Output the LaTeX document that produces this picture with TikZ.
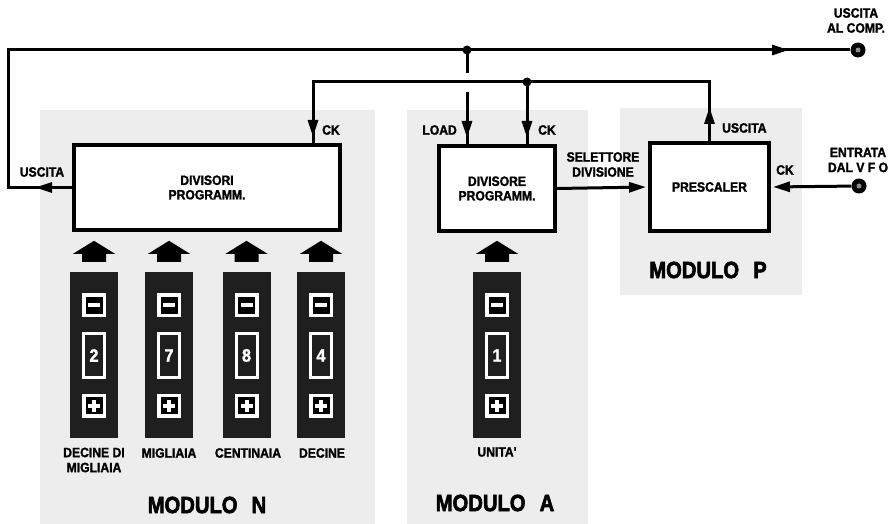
\documentclass[tikz,border=0pt]{standalone}
\usepackage{fontspec}
\setmainfont{Liberation Sans}
\newfontfamily\condfont{Liberation Sans}[FakeStretch=0.9, BoldFeatures={FakeBold=1.6}]
\newfontfamily\heavyfont{Liberation Sans}[FakeStretch=0.86, BoldFeatures={FakeBold=2.5}]
\usetikzlibrary{arrows.meta,calc}
\begin{document}
\begin{tikzpicture}[x=1pt,y=-1pt,
  wire/.style={line width=3pt},
  arr/.style={-{Triangle[length=17pt,width=10pt]}},
  box/.style={draw, line width=4pt, fill=white, inner sep=0pt, font=\condfont\fontsize{13.5}{14.5}\selectfont\bfseries, align=center},
  lab/.style={font=\condfont\fontsize{13.5}{15}\selectfont\bfseries, align=center, inner sep=0pt},
  modlab/.style={font=\heavyfont\fontsize{23.5}{26}\selectfont\bfseries, inner sep=0pt},
  zone/.style={fill=black!7},
  panel/.style={fill=black!88, minimum width=48pt, minimum height=166pt, inner sep=0pt},
  btn/.style={fill=black, draw=white, line width=3.5pt, minimum size=20.5pt, inner sep=0pt},
  win/.style={fill=black!88, draw=white, line width=3pt, minimum width=21pt, minimum height=44pt, inner sep=0pt, text=white, font=\condfont\fontsize{18}{18}\selectfont\bfseries},
  term/.style={circle, fill=black, minimum size=15pt, inner sep=0pt},
]
\useasboundingbox (0,0) rectangle (892,524);
\fill[white] (0,0) rectangle (892,524);
% module zones
\fill[zone] (40,110) rectangle (375,524);
\fill[zone] (407,110) rectangle (588,524);
\fill[zone] (620,108) rectangle (802,295);

% blocks
\node[box, minimum width=266pt, minimum height=85pt] (divN) at (207,187.5) {DIVISORI\\PROGRAMM.};
\node[box, minimum width=116pt, minimum height=85pt] (divA) at (497,188.5) {DIVISORE\\PROGRAMM.};
\node[box, minimum width=119pt, minimum height=88pt] (pres) at (709.5,187) {PRESCALER};

% terminals and junctions
\coordinate (TL) at (8,50);
\coordinate (J1) at (467,50);
\coordinate (J2) at (527,82);
\coordinate (Lt) at (313,82);
\coordinate (ldS) at (467,92);
\node[term] (outT) at (858,50) {};
\node[term] (inT) at (859,186) {};
\fill[black!45] (outT) circle (2.5);
\fill[black!45] (inT) circle (2.5);

% wires
\draw[wire] (divN.west) -| (TL) -- (outT);
\draw[wire,arr] (divN.west) -- (35,187.5);
\draw[wire,arr] (J1) -- (789,50);
\draw[wire] (J1) -- ++(0,23);
\draw[wire] (pres.north) |- (Lt) -- (Lt |- divN.north);
\draw[wire,arr] (Lt) -- (313,137);
\draw[wire] (J2) -- (J2 |- divA.north);
\draw[wire,arr] (J2) -- (527,138);
\draw[wire] (ldS) -- (ldS |- divA.north);
\draw[wire,arr] (ldS) -- (467,138);
\draw[wire,arr] (pres.north) -- (709.5,107);
\draw[wire,arr,shorten >=2pt] (divA.east) -- (pres.west);
\draw[wire,arr,shorten >=2pt] (inT) -- (pres.east);
\fill (J1) circle (4.5);
\fill (J2) circle (4.5);

% wire labels
\node[lab, anchor=center] (lUscN) at (42,172) {USCITA};
\node[lab, anchor=west] (lCkN) at (322,130) {CK};
\node[lab, anchor=east] (lLoad) at (457,130) {LOAD};
\node[lab, anchor=west] (lCkA) at (538,130) {CK};
\node[lab] (lSel) at (603,164.5) {SELETTORE\\DIVISIONE};
\node[lab, anchor=west] (lUscP) at (722,128) {USCITA};
\node[lab, anchor=west] (lCkP) at (776,170) {CK};
\node[lab] (lIn) at (858,160) {ENTRATA\\DAL V F O};
\node[lab] (lOut) at (856,20.5) {USCITA\\AL COMP.};

% digit panels
\foreach \nm/\cx/\dg in {N1/94/2, N2/169/7, N3/246.5/8, N4/321/4, A1/497/1} {
  \node[panel] (p\nm) at (\cx,355) {};
  \node[btn] (m\nm) at (\cx,305) {};
  \fill[white] (\cx-6,303) rectangle (\cx+6,307);
  \node[win] (w\nm) at (\cx,355.5) {\dg};
  \node[btn] (pl\nm) at (\cx,405.5) {};
  \fill[white] (\cx-6,403.5) rectangle (\cx+6,407.5);
  \fill[white] (\cx-2,399.5) rectangle (\cx+2,411.5);
  \fill ($(p\nm.north)+(0,-31)$) -- ++(21,13) -- ++(-9,0) -- ++(0,8) -- ++(-24,0) -- ++(0,-8) -- ++(-9,0) -- cycle;
}

% panel labels
\node[lab] (lDM) at (94,460) {DECINE DI\\MIGLIAIA};
\node[lab] (lMi) at (169,453) {MIGLIAIA};
\node[lab] (lCe) at (248,453) {CENTINAIA};
\node[lab] (lDe) at (322,453) {DECINE};
\node[lab] (lUn) at (497,452) {UNITA'};

% module labels
\node[modlab] (mN) at (207,505) {MODULO\hspace{0.6em}N};
\node[modlab] (mA) at (495,503) {MODULO\hspace{0.6em}A};
\node[modlab] (mP) at (708,270) {MODULO\hspace{0.6em}P};
\end{tikzpicture}
\end{document}
